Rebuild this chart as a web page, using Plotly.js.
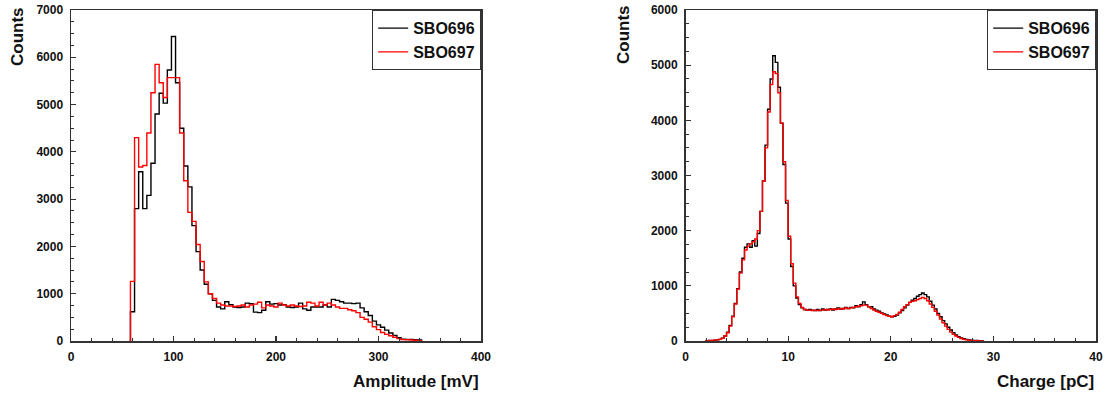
<!DOCTYPE html>
<html>
<head>
<meta charset="utf-8">
<script src="https://cdn.plot.ly/plotly-3.0.1.min.js"></script>
<style>html,body{margin:0;padding:0;background:#fff;}#chart{width:1107px;height:394px;}</style>
</head>
<body>
<div id="chart"></div>
<script>
// ---------- data ----------
const seriesNames = ["SBO696", "SBO697"];

// Left panel: amplitude histogram, 4 mV bins starting at 58 mV
const ampBinStart = 58;
const ampBinWidth = 4;
const ampSBO696 = [620,2800,3580,2800,3080,3760,4800,5240,5030,5730,6440,5460,4500,3700,3260,2440,1890,1500,1200,1000,
  860,720,680,830,770,720,710,720,800,790,610,600,650,830,780,790,760,770,720,710,
  720,800,680,650,720,720,720,760,720,880,860,830,800,800,790,800,700,620,540,420,
  340,290,230,170,120,70,40,35,35,30,20];
const ampSBO697 = [1260,4300,3680,3710,4400,5250,5850,5460,5150,5570,5570,5570,4400,3390,2720,2530,2040,1680,1250,1000,
  900,800,760,740,740,730,740,760,720,760,780,820,700,760,740,720,800,760,740,760,
  740,730,740,820,800,740,820,760,800,760,720,690,690,660,640,600,500,460,400,300,
  240,180,140,110,80,50,30,25,20,15,5];

// Right panel: charge histogram, 0.25 pC bins starting at 2 pC
const chgBinStart = 2;
const chgBinWidth = 0.25;
const chgSBO696 = [5,8,10,15,20,30,50,90,160,280,450,680,950,1250,1500,1700,1760,1700,1820,1720,
  1950,2350,2900,3550,4200,4750,5170,5050,4600,3950,3200,2500,1850,1350,1000,780,660,600,570,560,
  570,560,550,570,550,580,560,570,580,560,580,600,580,590,610,590,610,600,640,620,
  660,710,660,620,620,580,560,540,510,490,470,450,440,450,470,510,550,600,650,700,
  740,770,810,840,870,840,800,720,650,580,500,440,370,310,250,200,150,110,80,55,
  40,30,20,15,10,8,5,3];
const chgSBO697 = [5,8,10,15,20,30,50,90,150,270,440,670,940,1230,1470,1650,1720,1760,1800,1850,
  2000,2350,2900,3500,4150,4650,4880,4850,4500,3950,3250,2550,1900,1400,1050,800,680,610,570,560,
  560,550,560,550,560,560,570,560,570,580,570,580,590,580,600,590,600,610,620,630,
  640,650,650,620,590,560,540,520,500,480,460,450,440,460,480,520,570,620,660,700,
  720,730,750,770,790,770,730,670,610,540,470,400,330,270,210,160,120,90,65,45,
  30,20,15,10,6,4,2,1];

const ampTicks = [0,100,200,300,400];
const chgTicks = [0,10,20,30,40];

// ---------- helpers ----------
function stepLine(start, width, vals) {
  const xs = [start], ys = [0];
  for (let i = 0; i < vals.length; i++) { xs.push(start + i * width); ys.push(vals[i]); }
  xs.push(start + vals.length * width); ys.push(0);
  return {x: xs, y: ys};
}

const colors = ["#000000", "#ff0000"];
const W = 1107;
const FAM = "Liberation Sans, Arial, sans-serif";
const tickFont = {family: FAM, size: 12, color: "#111111", weight: "bold"};
const titleFont = {family: FAM, size: 17, color: "#111111", weight: "bold"};
const legFont = {family: FAM, size: 16, color: "#111111", weight: "bold"};

const traces = [];
[ampSBO696, ampSBO697].forEach((v, k) => {
  const s = stepLine(ampBinStart, ampBinWidth, v);
  traces.push({x: s.x, y: s.y, type: "scatter", mode: "lines", name: seriesNames[k],
    line: {color: colors[k], width: 1.4, shape: "hv"}, xaxis: "x", yaxis: "y", legend: "legend"});
});
[chgSBO696, chgSBO697].forEach((v, k) => {
  const s = stepLine(chgBinStart, chgBinWidth, v);
  traces.push({x: s.x, y: s.y, type: "scatter", mode: "lines", name: seriesNames[k],
    line: {color: colors[k], width: 1.4, shape: "hv"}, xaxis: "x2", yaxis: "y2", legend: "legend2"});
});

const axisBase = {
  showline: true, linecolor: "#333333", linewidth: 1.5, mirror: true,
  showgrid: false, zeroline: false, ticks: "inside", ticklen: 5, tickwidth: 1.2, tickcolor: "#333333",
  tickfont: tickFont, fixedrange: true
};

const xL = [71 / W, 481 / W];
const xR = [685.5 / W, 1096 / W];

const layout = {
  width: 1107, height: 394,
  margin: {l: 0, r: 0, t: 10, b: 53},
  paper_bgcolor: "#ffffff", plot_bgcolor: "#ffffff",
  showlegend: true,
  xaxis: Object.assign({}, axisBase, {domain: xL, range: [0, 400], tickvals: ampTicks, anchor: "y", ticklabelstandoff: 4,
    minor: {dtick: 20, ticks: "inside", ticklen: 3, tickcolor: "#333333", tickwidth: 1}}),
  yaxis: Object.assign({}, axisBase, {domain: [0, 1], range: [0, 7000], dtick: 1000, anchor: "x", ticklabelstandoff: 4,
    minor: {dtick: 250, ticks: "inside", ticklen: 3, tickcolor: "#333333", tickwidth: 1}}),
  xaxis2: Object.assign({}, axisBase, {domain: xR, range: [0, 40], tickvals: chgTicks, anchor: "y2", ticklabelstandoff: 4,
    minor: {dtick: 2, ticks: "inside", ticklen: 3, tickcolor: "#333333", tickwidth: 1}}),
  yaxis2: Object.assign({}, axisBase, {domain: [0, 1], range: [0, 6000], dtick: 1000, anchor: "x2", ticklabelstandoff: 4,
    minor: {dtick: 250, ticks: "inside", ticklen: 3, tickcolor: "#333333", tickwidth: 1}}),
  legend: {x: xL[1], y: 1, xanchor: "right", yanchor: "top", bordercolor: "#333333", borderwidth: 1.2,
    bgcolor: "#ffffff", font: legFont, tracegroupgap: 0, itemwidth: 30},
  legend2: {x: xR[1], y: 1, xanchor: "right", yanchor: "top", bordercolor: "#333333", borderwidth: 1.2,
    bgcolor: "#ffffff", font: legFont, tracegroupgap: 0, itemwidth: 30},
  annotations: [
    {text: "Counts", xref: "paper", yref: "paper", x: 17 / W, y: 1 - (37 - 10) / 331, textangle: -90,
     showarrow: false, font: titleFont, xanchor: "center", yanchor: "middle"},
    {text: "Counts", xref: "paper", yref: "paper", x: 623 / W, y: 1 - (35 - 10) / 331, textangle: -90,
     showarrow: false, font: titleFont, xanchor: "center", yanchor: "middle"},
    {text: "Amplitude [mV]", xref: "paper", yref: "paper", x: xL[1], y: -(381 - 341) / 331,
     showarrow: false, font: titleFont, xanchor: "right", yanchor: "middle"},
    {text: "Charge [pC]", xref: "paper", yref: "paper", x: xR[1], y: -(381 - 341) / 331,
     showarrow: false, font: titleFont, xanchor: "right", yanchor: "middle"}
  ]
};

Plotly.newPlot("chart", traces, layout, {displayModeBar: false, staticPlot: true});
</script>
</body>
</html>
